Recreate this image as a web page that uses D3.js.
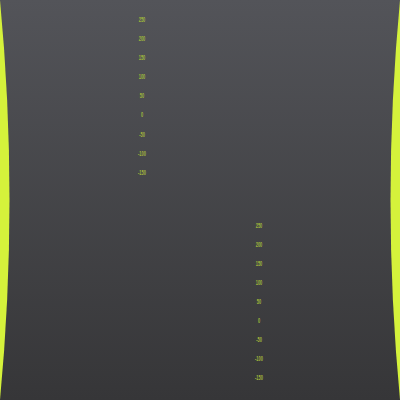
<!DOCTYPE html>
<html>
<head>
<meta charset="utf-8">
<script src="https://cdn.jsdelivr.net/npm/d3@7"></script>
<style>
html,body{margin:0;padding:0;background:#444;}
svg{display:block;}
</style>
</head>
<body>
<svg id="chart" width="400" height="400"></svg>
<script>
const tickValues = [250, 200, 150, 100, 50, 0, -50, -100, -150];
const leftAxisLabels = ["250", "200", "150", "100", "50", "0", "-50", "-100", "-150"];
const rightAxisLabels = ["250", "200", "150", "100", "50", "0", "-50", "-100", "-150"];
const valueDomain = [-150, 250];

const W = 400, H = 400;
const svg = d3.select("#chart");
const defs = svg.append("defs");
const grad = defs.append("linearGradient").attr("id", "bg").attr("x1", 0).attr("y1", 0).attr("x2", 0).attr("y2", 1);
grad.append("stop").attr("offset", "0%").attr("stop-color", "#535459");
grad.append("stop").attr("offset", "100%").attr("stop-color", "#363638");

svg.append("rect").attr("width", W).attr("height", H).attr("fill", "url(#bg)");

// concave side bands
svg.append("path").attr("d", `M0,0 Q19,${H/2} 0,${H} Z`).attr("fill", "#d5f23b");
svg.append("path").attr("d", `M${W},0 Q${W-19},${H/2} ${W},${H} Z`).attr("fill", "#d5f23b");

const y1 = d3.scaleLinear().domain(valueDomain).range([172, 19]);
const y2 = d3.scaleLinear().domain(valueDomain).range([377, 225]);

function drawAxis(scale, x, labels) {
  const g = svg.append("g").attr("transform", `translate(${x},0)`)
    .call(d3.axisLeft(scale).tickValues(tickValues).tickSize(0).tickPadding(0)
      .tickFormat((d, i) => labels[i]));
  g.select(".domain").remove();
  g.selectAll("text")
    .attr("x", 0)
    .attr("dy", "0.36em")
    .attr("text-anchor", "middle")
    .attr("fill", "#a2b83b")
    .attr("font-family", "Liberation Sans")
    .attr("font-size", 4.4)
    .attr("font-weight", "bold")
    .attr("transform", "scale(0.9,1.45)")
    .attr("y", function() { return 0; });
  // compensate vertical scale so labels stay at tick positions
  g.selectAll(".tick").each(function(d) {
    d3.select(this).select("text").attr("transform", null)
      .attr("transform", "scale(0.9,1.45)");
  });
}
drawAxis(y1, 142, leftAxisLabels);
drawAxis(y2, 259, rightAxisLabels);
</script>
</body>
</html>
